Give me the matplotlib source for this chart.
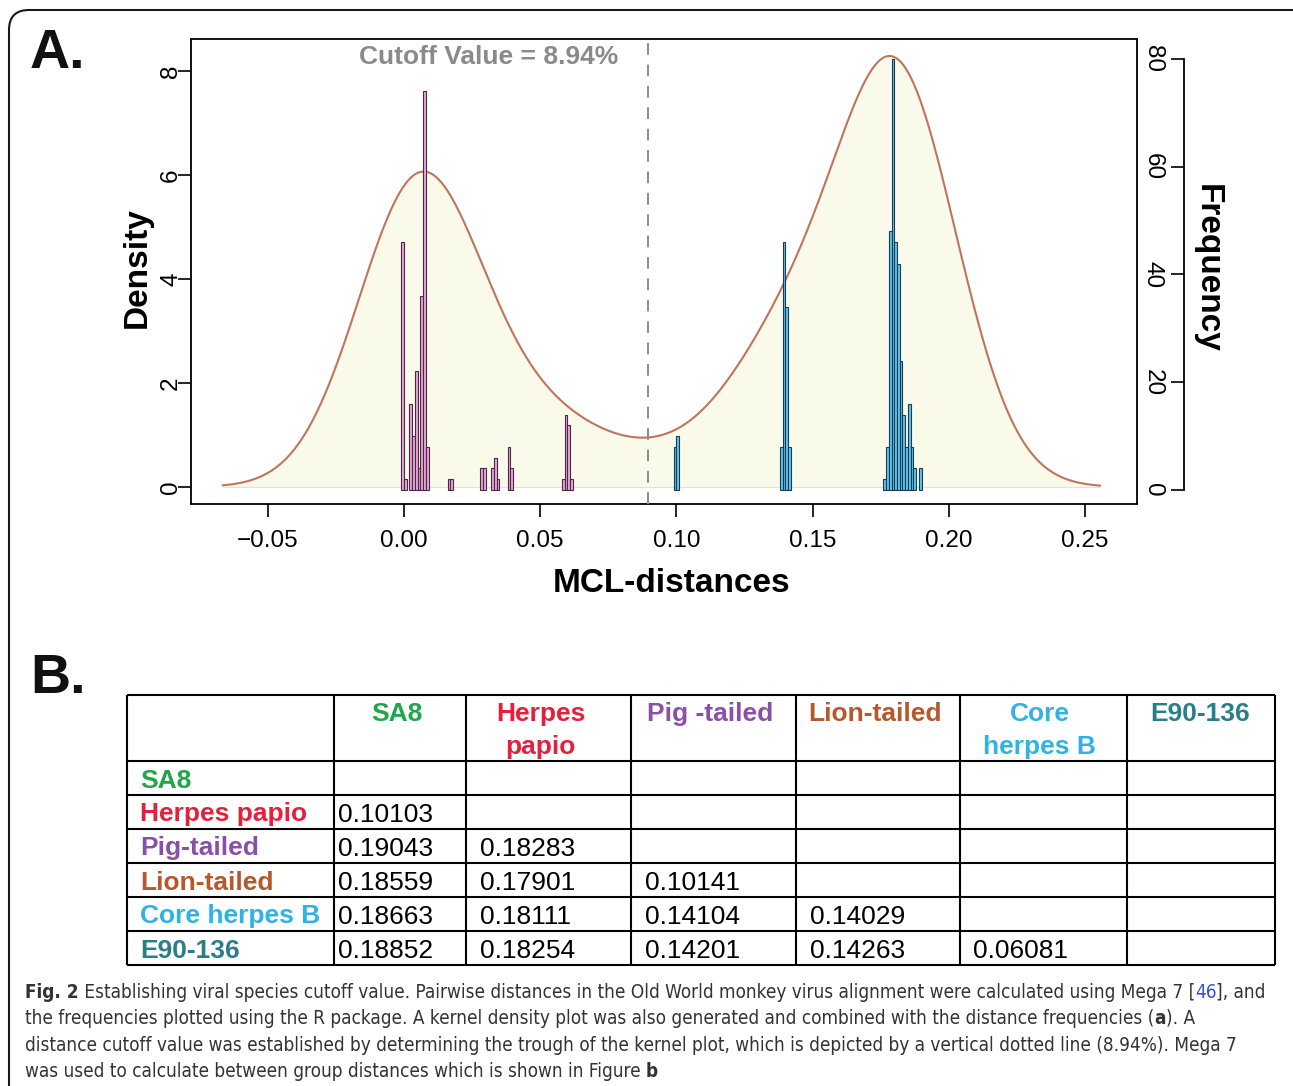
import numpy as np
import matplotlib
matplotlib.use("Agg")
import matplotlib.pyplot as plt
from matplotlib.patches import FancyBboxPatch
from matplotlib.transforms import IdentityTransform, blended_transform_factory
from matplotlib import font_manager as fm

# ---------------- data ----------------
bin_width = 0.001
bin_left = [-0.001, 0.000, 0.002, 0.003, 0.004, 0.005, 0.006, 0.007, 0.008,
            0.016, 0.017, 0.028, 0.029, 0.032, 0.033, 0.034, 0.038, 0.039,
            0.058, 0.059, 0.060, 0.061,
            0.099, 0.100, 0.138, 0.139, 0.140, 0.141,
            0.176, 0.177, 0.178, 0.179, 0.180, 0.181, 0.182, 0.183, 0.184,
            0.185, 0.186, 0.187, 0.189]
counts = [46, 2, 16, 10, 22, 4, 36, 74, 8,
          2, 2, 4, 4, 4, 6, 2, 8, 4,
          2, 14, 12, 2,
          8, 10, 8, 46, 34, 8,
          2, 8, 48, 80, 46, 42, 24, 14, 8,
          16, 8, 4, 4]
cutoff = 0.0894
kde_bandwidth = 0.022
x_ticks = [-0.05, 0.00, 0.05, 0.10, 0.15, 0.20, 0.25]
x_tick_labels = ["\u22120.05", "0.00", "0.05", "0.10", "0.15", "0.20", "0.25"]
density_ticks = [0, 2, 4, 6, 8]
freq_ticks = [0, 20, 40, 60, 80]

table_names = ["SA8", "Herpes papio", "Pig-tailed", "Lion-tailed", "Core herpes B", "E90-136"]
table_headers = [["SA8"], ["Herpes", "papio"], ["Pig -tailed"], ["Lion-tailed"],
                 ["Core", "herpes B"], ["E90-136"]]
table_colors = ["#1FA64B", "#E5203C", "#8A4FA6", "#B5582B", "#2FB2E6", "#2A7E89"]
table_values = [[],
                ["0.10103"],
                ["0.19043", "0.18283"],
                ["0.18559", "0.17901", "0.10141"],
                ["0.18663", "0.18111", "0.14104", "0.14029"],
                ["0.18852", "0.18254", "0.14201", "0.14263", "0.06081"]]

# ---------------- setup ----------------
W, H, DPI = 1293, 1086, 100
plt.rcParams['font.family'] = ['Liberation Sans', 'DejaVu Sans']
fig = plt.figure(figsize=(W / DPI, H / DPI), dpi=DPI)
fig.patch.set_facecolor("white")

# ---------------- panel A ----------------
ax = fig.add_axes([191 / W, 1 - 504 / H, (1137 - 191) / W, (504 - 39) / H])
mids = np.array(bin_left) + bin_width / 2
vals = np.repeat(mids, counts)
h = kde_bandwidth
xg = np.linspace(vals.min() - 3 * h, vals.max() + 3 * h, 600)
dens = np.exp(-0.5 * ((xg[:, None] - vals[None, :]) / h) ** 2).sum(axis=1) / (len(vals) * h * np.sqrt(2 * np.pi))
maxd = dens.max()

ax.fill_between(xg, 0, dens, color="#FAFAEB", lw=0, zorder=1)
ax.plot([xg[0], xg[-1]], [0, 0], color="#E2E2DA", lw=0.8, zorder=1.5)
ax.plot(xg, dens, color="#C0745E", lw=1.5, zorder=2)
ax.set_xlim(-0.0782, 0.2691)
ax.set_ylim(-0.0394 * maxd, 1.0394 * maxd)
for s in ax.spines.values():
    s.set_linewidth(1.3)
    s.set_color("black")
ax.set_xticks(x_ticks)
ax.set_xticklabels(x_tick_labels)
ax.tick_params(axis='x', direction='out', length=9.4, width=1.2, labelsize=17.5, pad=9.5)
ax.set_yticks(density_ticks)
ax.set_yticklabels([str(t) for t in density_ticks], rotation=90, va='center', ha='center')
ax.tick_params(axis='y', direction='out', length=9.4, width=1.2, labelsize=17.5, pad=5)

ax2 = ax.twinx()
face = ["#E7A7D4" if b < cutoff else "#5CC6EF" for b in bin_left]
edge = ["#4A2846" if b < cutoff else "#1C3B52" for b in bin_left]
ax2.bar(bin_left, counts, width=bin_width, align='edge', color=face, edgecolor=edge, lw=0.8, zorder=3)
ax2.axvline(cutoff, color="#8C8C8C", lw=1.4, ls=(0, (6, 5)), zorder=2)
ax2.set_ylim(-2.6, 83.71)
for k in ['left', 'top', 'bottom']:
    ax2.spines[k].set_visible(False)
ax2.spines['right'].set_position(('outward', 33.8))
ax2.spines['right'].set_bounds(0, 80)
ax2.spines['right'].set_linewidth(1.3)
ax2.tick_params(axis='y', direction='in', length=9.4, width=1.2, labelsize=17.5,
                pad=-22.3, labelrotation=-90)
ax2.set_yticks(freq_ticks)
ax2.set_yticklabels([str(t) for t in freq_ticks])
for lab in ax2.yaxis.get_ticklabels():
    lab.set_horizontalalignment('center')
    lab.set_verticalalignment('center')

tr = blended_transform_factory(ax.transData, ax.transAxes)
ax.text(0.0312, 0.962, "Cutoff Value = 8.94%", transform=tr, ha='center', va='center',
        fontsize=19, fontweight='bold', color="#8A8A8A", zorder=5)
ax.text(0.508, -0.172, "MCL-distances", transform=ax.transAxes, ha='center', va='center',
        fontsize=24, fontweight='bold')
ax.text(-0.057, 0.5075, "Density", transform=ax.transAxes, ha='center', va='center',
        rotation=90, rotation_mode='anchor', fontsize=24, fontweight='bold')
ax.text(1.074, 0.5075, "Frequency", transform=ax.transAxes, ha='center', va='center',
        rotation=-90, rotation_mode='anchor', fontsize=24, fontweight='bold')

# ---------------- overlay (pixel coordinates) ----------------
lay = fig.add_axes([0, 0, 1, 1], zorder=10)
lay.set_xlim(0, W)
lay.set_ylim(H, 0)
lay.axis('off')
lay.patch.set_alpha(0)

lay.text(30, 68, "A.", fontsize=40, fontweight='bold', va='baseline', ha='left', color="#111111")
lay.text(30, 693, "B.", fontsize=40, fontweight='bold', va='baseline', ha='left', color="#111111")

# table
col_edges = [127, 334, 466, 631, 796, 960, 1127, 1275]
row_edges = [695, 761, 795, 829, 863, 897, 931, 965]
lay.hlines(row_edges, col_edges[0], col_edges[-1], color='black', lw=1.5)
lay.vlines(col_edges, row_edges[0], row_edges[-1], color='black', lw=1.5)
fs_tab = 19
head_shift = [-3, -8, -3, -3, -4, -1]
for j, (lines, c) in enumerate(zip(table_headers, table_colors)):
    xc = (col_edges[j + 1] + col_edges[j + 2]) / 2 + head_shift[j]
    for k, ln in enumerate(lines):
        lay.text(xc, 721 + 33 * k, ln, ha='center', va='baseline', fontsize=fs_tab,
                 fontweight='bold', color=c)
val_pad = [4, 14, 14, 14, 13]
for i, (name, c, row) in enumerate(zip(table_names, table_colors, table_values)):
    yb = (row_edges[i + 1] + row_edges[i + 2]) / 2 + 9.5
    lay.text(col_edges[0] + 13, yb, name, ha='left', va='baseline', fontsize=fs_tab,
             fontweight='bold', color=c)
    for j, v in enumerate(row):
        lay.text(col_edges[j + 1] + val_pad[j], yb, v, ha='left', va='baseline',
                 fontsize=fs_tab, color='black')

# caption
names = {f.name for f in fm.fontManager.ttflist}
cond = any(f.name == 'DejaVu Sans' and f.stretch == 'condensed' for f in fm.fontManager.ttflist)
if 'Liberation Sans Narrow' in names:
    cap_kw = dict(family=['Liberation Sans Narrow'])
elif cond:
    cap_kw = dict(family=['DejaVu Sans'], fontstretch='condensed')
else:
    cap_kw = dict(family=['Roboto', 'DejaVu Sans'])

txt_c = "#333333"
blue_c = "#3550D8"
caption = [
    [("Fig. 2", 'bold', txt_c),
     (" Establishing viral species cutoff value. Pairwise distances in the Old World monkey virus alignment were calculated using Mega 7 [", 'normal', txt_c),
     ("46", 'normal', blue_c), ("], and", 'normal', txt_c)],
    [("the frequencies plotted using the R package. A kernel density plot was also generated and combined with the distance frequencies (", 'normal', txt_c),
     ("a", 'bold', txt_c), ("). A", 'normal', txt_c)],
    [("distance cutoff value was established by determining the trough of the kernel plot, which is depicted by a vertical dotted line (8.94%). Mega 7", 'normal', txt_c)],
    [("was used to calculate between group distances which is shown in Figure ", 'normal', txt_c),
     ("b", 'bold', txt_c)],
]
renderer = fig.canvas.get_renderer()


def seg_w(s, size, weight):
    t1 = lay.text(0, 0, "|" + s + "|", fontsize=size, fontweight=weight, **cap_kw)
    w1 = t1.get_window_extent(renderer).width
    t1.remove()
    t2 = lay.text(0, 0, "||", fontsize=size, fontweight=weight, **cap_kw)
    w2 = t2.get_window_extent(renderer).width
    t2.remove()
    return w1 - w2


base = 12.0
w_line1 = sum(seg_w(s, base, wt) for s, wt, _ in caption[0])
cap_fs = base * (1268 - 25) / w_line1
baselines = [998, 1024, 1051, 1077]
for segs, yb in zip(caption, baselines):
    x = 25
    for s, wt, c in segs:
        lay.text(x, yb, s, fontsize=cap_fs, fontweight=wt, color=c, ha='left', va='baseline', **cap_kw)
        x += seg_w(s, cap_fs, wt)

# frame
frame = FancyBboxPatch((9, -40), 1400, H - 10 + 40, boxstyle='round,pad=0,rounding_size=20',
                       transform=IdentityTransform(), fill=False, lw=1.5, ec='#1A1A1A')
fig.add_artist(frame)

fig.savefig("out.png", dpi=DPI)
